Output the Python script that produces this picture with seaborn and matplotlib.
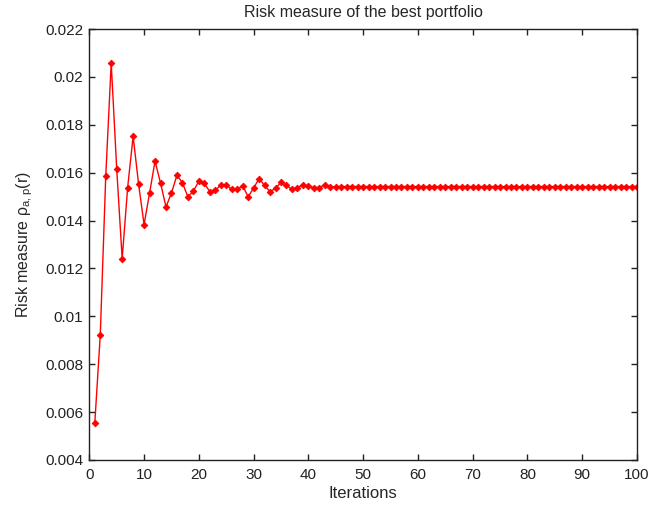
import matplotlib
matplotlib.use("Agg")
import matplotlib.pyplot as plt
import seaborn as sns
import pandas as pd

iterations = list(range(1, 101))
risk_values = [
    0.00554, 0.00921, 0.01585, 0.02058, 0.01617, 0.01241, 0.01538, 0.01752, 0.01552, 0.01383,
    0.01515, 0.01648, 0.01557, 0.01457, 0.01515, 0.01589, 0.01558, 0.01499, 0.01523, 0.01564,
    0.01555, 0.01521, 0.01526, 0.01548, 0.01549, 0.01530, 0.01530, 0.01546, 0.01499, 0.01536,
    0.01575, 0.01547, 0.01520, 0.01535, 0.01559, 0.01547, 0.01530, 0.01538, 0.01549, 0.01543,
    0.01538, 0.01538, 0.01549, 0.01540, 0.01542, 0.01542, 0.01542, 0.01542, 0.01542, 0.01542,
    0.01542, 0.01542, 0.01542, 0.01542, 0.01542, 0.01542, 0.01542, 0.01542, 0.01542, 0.01542,
    0.01542, 0.01542, 0.01542, 0.01542, 0.01542, 0.01542, 0.01542, 0.01542, 0.01542, 0.01542,
    0.01542, 0.01542, 0.01542, 0.01542, 0.01542, 0.01542, 0.01542, 0.01542, 0.01542, 0.01542,
    0.01542, 0.01542, 0.01542, 0.01542, 0.01542, 0.01542, 0.01542, 0.01542, 0.01542, 0.01542,
    0.01542, 0.01542, 0.01542, 0.01542, 0.01542, 0.01542, 0.01542, 0.01542, 0.01542, 0.01542,
]
x_ticks = [0, 10, 20, 30, 40, 50, 60, 70, 80, 90, 100]
y_ticks = [0.004, 0.006, 0.008, 0.01, 0.012, 0.014, 0.016, 0.018, 0.02, 0.022]
y_tick_labels = ["0.004", "0.006", "0.008", "0.01", "0.012", "0.014", "0.016", "0.018", "0.02", "0.022"]

df = pd.DataFrame({"Iterations": iterations, "Risk": risk_values})

sns.set_style("ticks")
plt.rcParams["font.family"] = ["Liberation Sans", "DejaVu Sans"]
plt.rcParams["mathtext.default"] = "regular"

fig = plt.figure(figsize=(6.71, 5.09), dpi=100)
ax = fig.add_axes([0.1331, 0.0963, 0.8162, 0.8467])

sns.lineplot(data=df, x="Iterations", y="Risk", ax=ax, color="#ff0000",
             linewidth=1.0, marker="D", markersize=3.4, markeredgewidth=0.6,
             markeredgecolor="#ff0000")

ax.set_xlim(0, 100)
ax.set_ylim(0.004, 0.022)
ax.set_xticks(x_ticks)
ax.set_xticklabels([str(t) for t in x_ticks])
ax.set_yticks(y_ticks)
ax.set_yticklabels(y_tick_labels)
ax.tick_params(direction="in", length=4.5, width=1, top=True, right=True,
               labelsize=11, colors="#222222")
ax.tick_params(axis="x", pad=6)
ax.tick_params(axis="y", pad=4.5)
for s in ax.spines.values():
    s.set_linewidth(1.0)
    s.set_color("#222222")
    s.set_visible(True)

ax.set_title("Risk measure of the best portfolio", fontsize=11.5, pad=9)
ax.set_xlabel("Iterations", fontsize=12, labelpad=3)
ax.set_ylabel(r"Risk measure $\rho_{a,p}(r)$", fontsize=11.5, labelpad=7)

fig.savefig("out.png", dpi=100)
